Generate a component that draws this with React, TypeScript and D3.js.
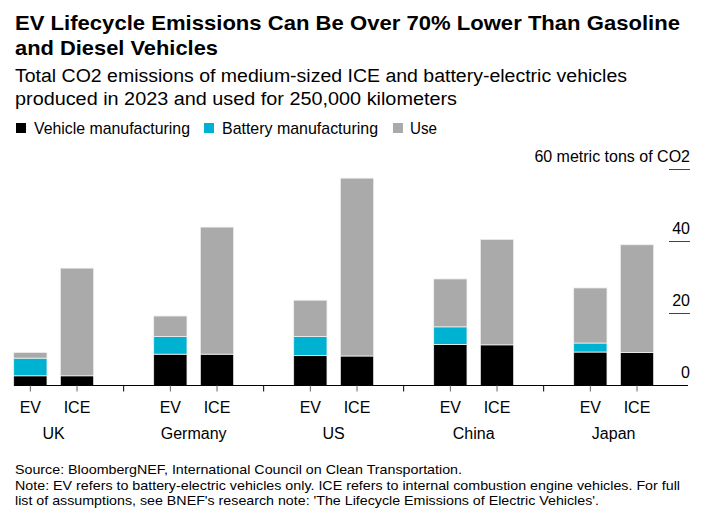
import React from "react";
import * as d3 from "d3";

const countries = ["UK", "Germany", "US", "China", "Japan"];
const vehicleTypes = ["EV", "ICE"];
const seriesNames = ["Vehicle manufacturing", "Battery manufacturing", "Use"];
const seriesColors = ["#000000", "#00b2d1", "#aaaaaa"];

// values per country: [EV, ICE]
const vehicleMfg = [
  [2.7, 2.7],
  [8.7, 8.7],
  [8.3, 8.2],
  [11.4, 11.3],
  [9.3, 9.2],
];
const batteryMfg = [
  [4.9, 0],
  [4.9, 0],
  [5.3, 0],
  [4.9, 0],
  [2.5, 0],
];
const useEmissions = [
  [1.6, 29.9],
  [5.7, 35.3],
  [10.1, 49.4],
  [13.3, 29.3],
  [15.3, 29.9],
];
const yTicks = [0, 20, 40, 60];

const titleLines = [
  "EV Lifecycle Emissions Can Be Over 70% Lower Than Gasoline",
  "and Diesel Vehicles",
];
const subtitleLines = [
  "Total CO2 emissions of medium-sized ICE and battery-electric vehicles",
  "produced in 2023 and used for 250,000 kilometers",
];
const footerLines = [
  "Source: BloombergNEF, International Council on Clean Transportation.",
  "Note: EV refers to battery-electric vehicles only. ICE refers to internal combustion engine vehicles. For full",
  "list of assumptions, see BNEF's research note: 'The Lifecycle Emissions of Electric Vehicles'.",
];

const W = 705;
const H = 524;
const FONT = "'Liberation Sans', Arial, sans-serif";

export default function App() {
  // 15 slots: each country gets EV, ICE and a gap slot
  const slots: string[] = [];
  countries.forEach((c) => {
    vehicleTypes.forEach((t) => slots.push(`${c}|${t}`));
    slots.push(`${c}|gap`);
  });
  const x = d3.scaleBand<string>().domain(slots).range([7, 707]).paddingInner(0.286).paddingOuter(0.143);
  const y = d3.scaleLinear().domain([0, 60]).range([385.5, 169.5]);

  const rows = countries.flatMap((c, ci) =>
    vehicleTypes.map((t, ti) => ({
      key: `${c}|${t}`,
      country: c,
      type: t,
      vals: [vehicleMfg[ci][ti], batteryMfg[ci][ti], useEmissions[ci][ti]],
    }))
  );

  const stackGen = d3.stack<any>().keys([0, 1, 2] as any).value((d: any, k: any) => d.vals[k]);
  const stacked = stackGen(rows);

  const center = (k: string) => (x(k) as number) + x.bandwidth() / 2;

  const titleW = [665, 203];
  const subW = [612, 442];
  const footW = [447, 665, 584];
  const legendSq = [16, 204, 393];
  const legendTx = [34, 222, 410];
  const legendW = [156, 156, 27];

  return (
    <svg width={W} height={H} style={{ position: "absolute", left: 0, top: 0 }} fontFamily={FONT}>
      <rect width={W} height={H} fill="#fff" />
      {titleLines.map((t, i) => (
        <text key={t} x={15} y={30 + i * 25} fontSize={21} fontWeight="bold" fill="#000"
          textLength={titleW[i]} lengthAdjust="spacingAndGlyphs">{t}</text>
      ))}
      {subtitleLines.map((t, i) => (
        <text key={t} x={15} y={82 + i * 23} fontSize={18} fill="#000"
          textLength={subW[i]} lengthAdjust="spacingAndGlyphs">{t}</text>
      ))}
      {seriesNames.map((n, i) => (
        <g key={n}>
          <rect x={legendSq[i]} y={123} width={10} height={10} fill={seriesColors[i]} />
          <text x={legendTx[i]} y={134} fontSize={17} fill="#000"
            textLength={legendW[i]} lengthAdjust="spacingAndGlyphs">{n}</text>
        </g>
      ))}

      {/* y axis ticks (right side) */}
      {yTicks.map((t) => (
        <g key={t}>
          {t > 0 && <line x1={669} x2={690} y1={y(t)} y2={y(t)} stroke="#444" strokeWidth={1} />}
          <text x={690} y={y(t) - 8} fontSize={16} textAnchor="end" fill="#000">
            {t === 60 ? "60 metric tons of CO2" : t}
          </text>
        </g>
      ))}

      {/* bars */}
      {stacked.map((layer, li) =>
        layer.map((seg: any, i: number) => {
          const h = y(seg[0]) - y(seg[1]);
          if (h <= 0) return null;
          return (
            <rect
              key={`${li}-${i}`}
              x={x(rows[i].key)}
              y={y(seg[1])}
              width={x.bandwidth()}
              height={h}
              fill={seriesColors[li]}
              stroke="#f0f0f0"
              strokeWidth={0.8}
            />
          );
        })
      )}

      {/* baseline */}
      <line x1={14} x2={688} y1={y(0)} y2={y(0)} stroke="#000" strokeWidth={1.2} />
      {rows.map((r) => (
        <line key={r.key} x1={center(r.key)} x2={center(r.key)} y1={y(0)} y2={y(0) + 6} stroke="#666" strokeWidth={1} />
      ))}
      {countries.slice(0, -1).map((c) => (
        <line key={c} x1={center(`${c}|gap`)} x2={center(`${c}|gap`)} y1={y(0)} y2={y(0) + 6} stroke="#000" strokeWidth={1} />
      ))}
      {rows.map((r) => (
        <text key={r.key + "l"} x={center(r.key)} y={413} fontSize={16} textAnchor="middle" fill="#000">
          {r.type}
        </text>
      ))}
      {countries.map((c) => (
        <text
          key={c + "c"}
          x={(center(`${c}|EV`) + center(`${c}|ICE`)) / 2}
          y={439}
          fontSize={16}
          textAnchor="middle"
          fill="#000"
        >
          {c}
        </text>
      ))}

      {footerLines.map((t, i) => (
        <text key={i} x={15} y={474 + i * 15.7} fontSize={13.5} fill="#000"
          textLength={footW[i]} lengthAdjust="spacingAndGlyphs">{t}</text>
      ))}
    </svg>
  );
}
